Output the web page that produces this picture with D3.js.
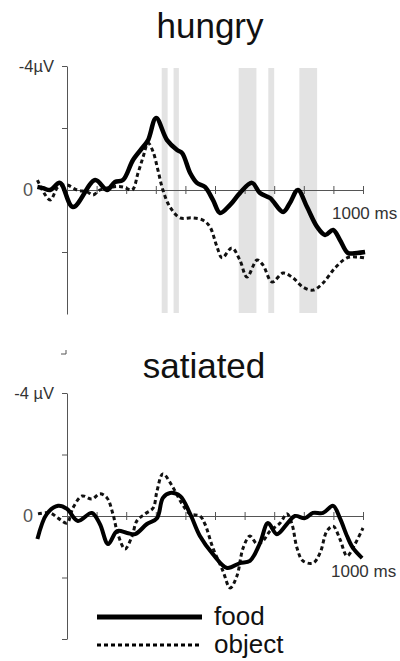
<!DOCTYPE html>
<html>
<head>
<meta charset="utf-8">
<script src="https://cdn.jsdelivr.net/npm/d3@7"></script>
<style>
  body { margin: 0; background: #fff; }
  svg { display: block; font-family: "Liberation Sans", Arial, sans-serif; }
</style>
</head>
<body>
<svg id="erp-chart"></svg>
<script>
// time in ms, amplitude in µV (negative plotted upward)
var hungryFoodT = [-100, -81, -57, -24, 20, 95, 135, 162, 189, 223, 257, 274, 301, 338, 372, 389, 416, 439, 466, 493, 517, 551, 584, 625, 652, 686, 730, 753, 780, 811, 845, 872, 899, 922, 949, 980, 1007];
var hungryFoodV = [-0.1, -0.06, 0, -0.23, 0.55, -0.32, 0, -0.26, -0.32, -0.97, -1.39, -1.61, -2.32, -1.61, -1.29, -1.19, -0.55, -0.23, -0.1, 0.32, 0.74, 0.48, 0.1, -0.23, 0.1, 0.26, 0.71, 0.42, 0, 0.55, 1.19, 1.45, 1.29, 1.61, 2.03, 2.03, 2.0];

var hungryObjT = [-100, -57, -30, 0, 34, 68, 88, 111, 155, 189, 220, 240, 257, 274, 291, 307, 324, 348, 382, 422, 459, 483, 507, 524, 557, 584, 608, 642, 662, 693, 730, 764, 797, 831, 865, 905, 946, 980, 1007];
var hungryObjV = [-0.32, 0.32, -0.1, -0.16, 0, 0.06, 0.16, 0, -0.1, -0.1, 0, -0.55, -1.06, -1.52, -1.23, -0.65, 0, 0.55, 0.9, 0.9, 0.97, 1.19, 1.84, 2.19, 1.87, 2.26, 2.81, 2.26, 2.42, 2.97, 2.68, 2.84, 3.13, 3.23, 3.0, 2.52, 2.19, 2.16, 2.19];

var satFoodT = [-100, -68, -30, 0, 37, 84, 111, 139, 169, 203, 230, 270, 304, 324, 348, 382, 416, 449, 493, 541, 584, 618, 652, 679, 709, 743, 770, 804, 831, 865, 899, 922, 946, 966, 997];
var satFoodV = [0.75, -0.07, -0.33, -0.23, 0.16, -0.1, 0.26, 0.91, 0.49, 0.55, 0.59, 0.26, 0.07, -0.59, -0.75, -0.65, -0.07, 0.65, 1.24, 1.69, 1.53, 1.46, 0.88, 0.23, 0.59, 0.26, 0, 0.07, -0.1, -0.1, -0.33, 0.07, 0.65, 1.04, 1.37];

var satObjT = [-98, -57, -30, 0, 20, 51, 84, 111, 135, 155, 172, 196, 220, 236, 264, 291, 304, 324, 355, 389, 416, 449, 466, 493, 527, 551, 574, 595, 618, 642, 662, 686, 720, 743, 760, 777, 797, 831, 855, 878, 899, 922, 946, 973, 1000];
var satObjV = [-0.07, -0.1, 0.07, 0.23, -0.26, -0.65, -0.55, -0.72, -0.59, -0.07, 0.59, 1.07, 0.65, 0.16, -0.07, -0.26, -0.81, -1.37, -0.98, -0.39, -0.07, 0, 0.26, 1.04, 1.79, 2.34, 1.95, 1.04, 0.65, 0.91, 0.81, 0.49, 0.23, -0.07, 0.26, 1.04, 1.46, 1.53, 1.2, 0.49, 0.33, 0.75, 1.3, 0.91, 0.39];

// significant intervals (ms) in the hungry condition
var hungryBands = [[320, 340], [360, 378], [580, 640], [680, 700], [785, 845]];

var xTicks = [0, 100, 200, 300, 400, 500, 600, 700, 800, 900, 1000];
var yDomain = [-4, 4];

var W = 400, H = 661;
var svg = d3.select('#erp-chart').attr('width', W).attr('height', H);

var x = d3.scaleLinear().domain([0, 1000]).range([67, 363]);

var zip = (t, v) => t.map((d, i) => [d, v[i]]);

function panel(opts) {
  var y = d3.scaleLinear().domain(yDomain).range(opts.yRange);
  var g = svg.append('g');

  // grey bands
  g.selectAll('rect.band')
    .data(opts.bands || [])
    .join('rect')
    .attr('x', d => x(d[0]))
    .attr('width', d => x(d[1]) - x(d[0]))
    .attr('y', opts.yRange[0] + 2)
    .attr('height', opts.yRange[1] - opts.yRange[0] - 3)
    .attr('fill', '#e3e3e3');

  // y axis
  var ya = g.append('g')
    .attr('transform', `translate(${x(0)},0)`)
    .call(d3.axisLeft(y).tickValues(opts.yTicks).tickSize(5).tickSizeOuter(0).tickFormat(''));
  ya.select('.domain').attr('stroke', '#555');
  ya.selectAll('.tick line').attr('stroke', '#555');

  // zero line with time ticks
  var xa = g.append('g')
    .attr('transform', `translate(0,${y(0)})`)
    .call(d3.axisBottom(x).tickValues(xTicks).tickSize(4).tickSizeOuter(0).tickFormat(''));
  xa.select('.domain').attr('stroke', '#555');
  xa.selectAll('.tick line').attr('stroke', '#555').attr('y1', -4);

  g.append('text')
    .attr('x', 33).attr('y', y(0)).attr('dy', '0.35em')
    .attr('text-anchor', 'end').attr('fill', '#555')
    .style('font-size', '18px').text('0');

  g.append('text')
    .attr('x', 54).attr('y', y(-4)).attr('dy', '0.35em')
    .attr('text-anchor', 'end').attr('fill', '#333')
    .style('font-size', '16.5px').text(opts.unit);

  g.append('text')
    .attr('x', opts.msX).attr('y', y(0) + opts.msDy).attr('dy', '0.35em')
    .attr('text-anchor', 'start').attr('fill', '#333')
    .style('font-size', '17px').text('1000 ms');

  g.append('text')
    .attr('x', opts.titleX).attr('y', opts.titleY)
    .attr('text-anchor', 'middle').attr('fill', '#111')
    .style('font-size', '35px').text(opts.title);

  var line = d3.line()
    .x(d => x(d[0]))
    .y(d => y(d[1]))
    .curve(d3.curveCatmullRom.alpha(0.5));

  g.append('path')
    .datum(zip(opts.objT, opts.objV))
    .attr('fill', 'none').attr('stroke', '#111')
    .attr('stroke-width', 3).attr('stroke-dasharray', '4,3')
    .attr('d', line);

  g.append('path')
    .datum(zip(opts.foodT, opts.foodV))
    .attr('fill', 'none').attr('stroke', '#000')
    .attr('stroke-width', opts.foodW).attr('stroke-linejoin', 'round')
    .attr('d', line);

  return g;
}

panel({
  title: 'hungry', titleX: 210, titleY: 38,
  yRange: [66, 314], yTicks: [-4, -2, 0, 2],
  unit: '-4µV', msX: 332, msDy: 23,
  bands: hungryBands,
  foodT: hungryFoodT, foodV: hungryFoodV,
  objT: hungryObjT, objV: hungryObjV, foodW: 4.5
});

panel({
  title: 'satiated', titleX: 204, titleY: 378,
  yRange: [393, 639], yTicks: [-4, -2, 0, 2, 4],
  unit: '-4 µV', msX: 331, msDy: 55,
  foodT: satFoodT, foodV: satFoodV,
  objT: satObjT, objV: satObjV, foodW: 4
});

// small stray corner mark above the satiated axis
svg.append('path')
  .attr('d', 'M61,354H66V350')
  .attr('fill', 'none').attr('stroke', '#555').attr('stroke-width', 1);

// legend
var legendItems = ['food', 'object'];
var legend = svg.append('g')
  .selectAll('g')
  .data(legendItems)
  .join('g')
  .attr('transform', (d, i) => `translate(0,${617 + i * 28})`);

legend.append('line')
  .attr('x1', 97).attr('x2', 202)
  .attr('stroke', '#000')
  .attr('stroke-width', (d, i) => i ? 3 : 5)
  .attr('stroke-dasharray', (d, i) => i ? '4,3' : null);

legend.append('text')
  .attr('x', 214).attr('dy', '0.32em')
  .attr('fill', '#111')
  .style('font-size', '26px')
  .text(d => d);
</script>
</body>
</html>
